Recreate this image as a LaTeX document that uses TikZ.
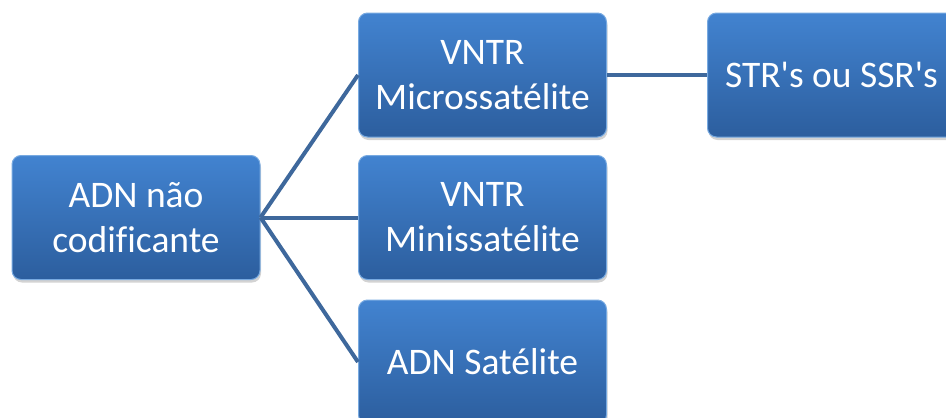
\documentclass[tikz,border=0pt]{standalone}
\usepackage{fontspec}
\setmainfont[Ligatures=CommonOff]{Carlito}
\usepackage{tikz}
\usetikzlibrary{shadows}
\usepackage{xcolor}
\definecolor{boxtop}{RGB}{66,131,208}
\definecolor{boxbottom}{RGB}{44,94,158}
\definecolor{boxedge}{RGB}{120,170,225}
\definecolor{linkblue}{RGB}{62,104,156}
\tikzstyle{branch} = [rectangle, rounded corners=9pt, minimum width=248pt, minimum height=124pt, align=center, text=white, font=\fontsize{37.5}{45}\selectfont, top color=boxtop, bottom color=boxbottom, draw=boxedge, line width=1pt, drop shadow={shadow xshift=1pt, shadow yshift=-3pt, opacity=0.35}]
\tikzstyle{link} = [line width=4pt, color=linkblue]

\begin{document}
\begin{tikzpicture}[x=1pt, y=-1pt]
\clip (0,0) rectangle (946,418);
% Tree nodes
\node (root) [branch] at (136,217.5) {ADN não\\codificante};
\node (micro) [branch] at (482.5,75) {VNTR\\Microssatélite};
\node (mini) [branch] at (482.5,217.5) {VNTR\\Minissatélite};
\node (sat) [branch] at (482.5,362) {ADN Satélite};
\node (str) [branch] at (831.5,75) {STR\textquotesingle s ou SSR\textquotesingle s};

% Links between levels
\draw[link] (root.east) -- (micro.west);
\draw[link] (root.east) -- (mini.west);
\draw[link] (root.east) -- (sat.west);
\draw[link] (micro.east) -- (str.west);
\end{tikzpicture}
\end{document}
